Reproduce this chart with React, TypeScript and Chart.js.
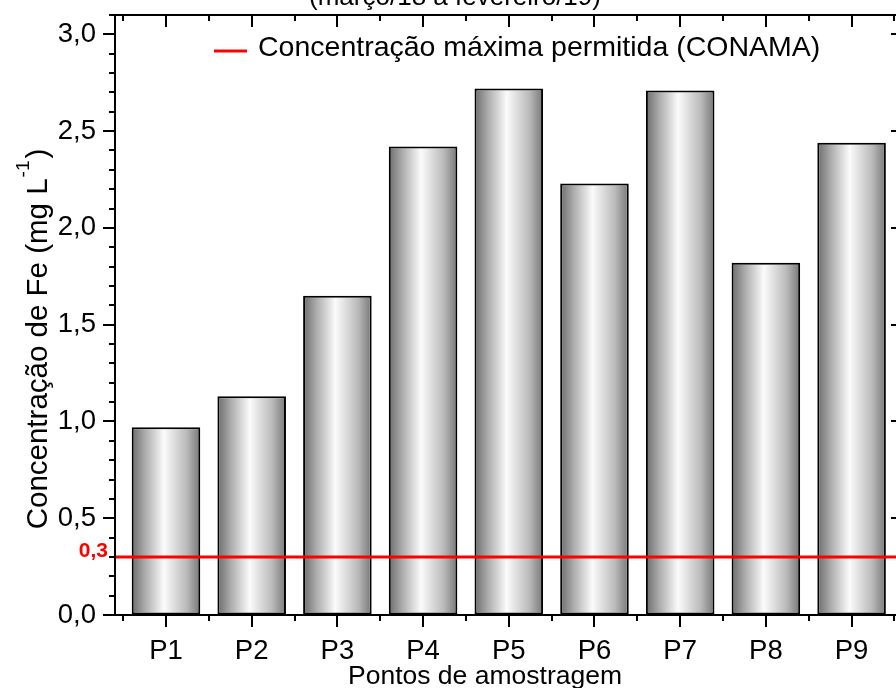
import React, { useEffect, useRef } from 'react';
import { Chart, registerables } from 'chart.js';

Chart.register(...registerables);

// ---- data ----
const categories = ['P1', 'P2', 'P3', 'P4', 'P5', 'P6', 'P7', 'P8', 'P9'];
const feValues = [0.97, 1.13, 1.65, 2.42, 2.72, 2.23, 2.71, 1.82, 2.44];
const limitValue = 0.3;
const yTickValues = [0, 0.5, 1.0, 1.5, 2.0, 2.5, 3.0];
const titleText = '(março/18 a fevereiro/19)';
const xAxisTitle = 'Pontos de amostragem';
const yAxisTitleMain = 'Concentração de Fe (mg L';
const yAxisTitleSup = '-1';
const yAxisTitleEnd = ')';
const limitLabel = 'Concentração máxima permitida (CONAMA)';

const FONT = '"Liberation Sans", Arial, sans-serif';
const X_MIN = 0.405;
const X_MAX = 9.6;
const Y_MAX = 3.1;

const fmt = (v: number) => v.toFixed(1).replace('.', ',');

const zeroPadding = (s: any) => {
  s.paddingTop = 0;
  s.paddingBottom = 0;
  s.paddingLeft = 0;
  s.paddingRight = 0;
};

const decorPlugin = {
  id: 'decor',
  afterDraw(chart: any) {
    const { ctx, chartArea } = chart;
    const { left, right, top, bottom } = chartArea;
    const xs = chart.scales.x;
    const ys = chart.scales.y;
    ctx.save();
    ctx.strokeStyle = '#000';
    ctx.lineWidth = 2;
    ctx.lineCap = 'butt';
    // frame
    ctx.strokeRect(left, top, right - left, bottom - top);
    // y ticks (left outward, right inward)
    ctx.beginPath();
    for (let k = 0; k <= Math.round(Y_MAX * 10); k++) {
      const y = Math.round(ys.getPixelForValue(k / 10));
      const len = k % 5 === 0 ? 12 : 6;
      ctx.moveTo(left, y);
      ctx.lineTo(left - len, y);
      ctx.moveTo(right, y);
      ctx.lineTo(right - len, y);
    }
    // x ticks (bottom outward, top inward)
    for (let i = 0; i <= categories.length; i++) {
      const xm = Math.round(xs.getPixelForValue(i + 0.5));
      ctx.moveTo(xm, bottom);
      ctx.lineTo(xm, bottom + 6);
      ctx.moveTo(xm, top);
      ctx.lineTo(xm, top + 6);
      if (i < categories.length) {
        const xc = Math.round(xs.getPixelForValue(i + 1));
        ctx.moveTo(xc, bottom);
        ctx.lineTo(xc, bottom + 12);
        ctx.moveTo(xc, top);
        ctx.lineTo(xc, top + 12);
      }
    }
    ctx.stroke();

    // limit label on the y axis
    const yl = ys.getPixelForValue(limitValue);
    ctx.fillStyle = '#ff0000';
    ctx.font = `bold 21px ${FONT}`;
    ctx.textAlign = 'right';
    ctx.textBaseline = 'alphabetic';
    ctx.fillText(fmt(limitValue), left - 7, yl);

    // legend
    const lineDs = chart.data.datasets[0];
    ctx.strokeStyle = lineDs.borderColor;
    ctx.lineWidth = 3;
    ctx.beginPath();
    ctx.moveTo(214, 51);
    ctx.lineTo(247, 51);
    ctx.stroke();
    ctx.fillStyle = '#000';
    ctx.textAlign = 'left';
    ctx.font = `28.5px ${FONT}`;
    ctx.fillText(lineDs.label, 258, 56);

    // title (partially cut at top)
    ctx.textAlign = 'center';
    ctx.font = `26px ${FONT}`;
    ctx.fillText(titleText, 455, 5);

    // x axis title
    ctx.font = `26.5px ${FONT}`;
    ctx.fillText(xAxisTitle, 485, 684);

    // y axis title with superscript
    ctx.translate(47, 339);
    ctx.rotate(-Math.PI / 2);
    ctx.textAlign = 'left';
    const mainSize = 29.5;
    const supSize = 19;
    ctx.font = `${mainSize}px ${FONT}`;
    const w1 = ctx.measureText(yAxisTitleMain).width;
    const w3 = ctx.measureText(yAxisTitleEnd).width;
    ctx.font = `${supSize}px ${FONT}`;
    const w2 = ctx.measureText(yAxisTitleSup).width;
    const start = -(w1 + w2 + w3 + 3) / 2;
    ctx.font = `${mainSize}px ${FONT}`;
    ctx.fillText(yAxisTitleMain, start, 0);
    ctx.font = `${supSize}px ${FONT}`;
    ctx.fillText(yAxisTitleSup, start + w1 + 1, -18);
    ctx.font = `${mainSize}px ${FONT}`;
    ctx.fillText(yAxisTitleEnd, start + w1 + w2 + 3, 0);
    ctx.restore();
  },
};

function barGradient(c: any) {
  const chart = c.chart;
  const xs = chart.scales && chart.scales.x;
  if (!xs || c.type !== 'data' || c.dataIndex == null) return '#bbbbbb';
  const xv = c.dataIndex + 1;
  const l = xs.getPixelForValue(xv - 0.4);
  const r = xs.getPixelForValue(xv + 0.4);
  if (!isFinite(l) || !isFinite(r) || r <= l) return '#bbbbbb';
  const g = chart.ctx.createLinearGradient(l, 0, r, 0);
  g.addColorStop(0, '#6c6c6c');
  g.addColorStop(0.2, '#adadad');
  g.addColorStop(0.47, '#fbfbfb');
  g.addColorStop(0.8, '#bababa');
  g.addColorStop(1, '#777777');
  return g;
}

export default function App() {
  const canvasRef = useRef<HTMLCanvasElement | null>(null);

  useEffect(() => {
    const canvas = canvasRef.current;
    if (!canvas) return;
    const chart = new Chart(canvas, {
      type: 'bar',
      data: {
        datasets: [
          {
            type: 'line',
            label: limitLabel,
            data: [
              { x: X_MIN, y: limitValue },
              { x: X_MAX, y: limitValue },
            ],
            borderColor: '#ff0000',
            borderWidth: 3,
            pointRadius: 0,
            order: 0,
          } as any,
          {
            type: 'bar',
            label: 'Fe',
            data: categories.map((_, i) => ({ x: i + 1, y: feValues[i] })),
            backgroundColor: barGradient,
            borderColor: '#000',
            borderWidth: 2,
            borderSkipped: false,
            barPercentage: 0.8,
            categoryPercentage: 1.0,
            order: 1,
          } as any,
        ],
      },
      options: {
        responsive: false,
        animation: false,
        devicePixelRatio: 1,
        layout: { padding: { left: 0, right: 7, top: 15, bottom: 0 } },
        plugins: {
          legend: { display: false },
          tooltip: { enabled: false },
          title: { display: false },
        },
        scales: {
          x: {
            type: 'linear',
            offset: false,
            min: X_MIN,
            max: X_MAX,
            afterBuildTicks: (s: any) => {
              s.ticks = categories.map((_, i) => ({ value: i + 1 }));
            },
            afterFit: (s: any) => {
              s.height = 73;
              zeroPadding(s);
            },
            grid: {
              display: true,
              offset: false,
              drawOnChartArea: false,
              color: 'rgba(0,0,0,0)',
              tickLength: 12,
            },
            border: { display: false },
            ticks: {
              autoSkip: false,
              maxRotation: 0,
              padding: 8,
              color: '#000',
              font: { family: FONT, size: 27.5 },
              callback: (v: any) => categories[Math.round(Number(v)) - 1] ?? '',
            },
          },
          y: {
            type: 'linear',
            min: 0,
            max: Y_MAX,
            afterBuildTicks: (s: any) => {
              s.ticks = yTickValues.map((v) => ({ value: v }));
            },
            afterFit: (s: any) => {
              s.width = 115;
              zeroPadding(s);
            },
            grid: { display: true, drawOnChartArea: false, color: 'rgba(0,0,0,0)', tickLength: 12 },
            border: { display: false },
            ticks: {
              padding: 7,
              color: '#000',
              font: { family: FONT, size: 27.5 },
              callback: (v: any) => fmt(Number(v)),
            },
          },
        },
      } as any,
      plugins: [decorPlugin],
    });
    return () => chart.destroy();
  }, []);

  return (
    <div
      style={{
        position: 'fixed',
        left: 0,
        top: 0,
        width: 896,
        height: 688,
        overflow: 'hidden',
        background: '#fff',
      }}
    >
      <canvas
        ref={canvasRef}
        width={910}
        height={688}
        style={{ display: 'block', width: 910, height: 688 }}
      />
    </div>
  );
}
